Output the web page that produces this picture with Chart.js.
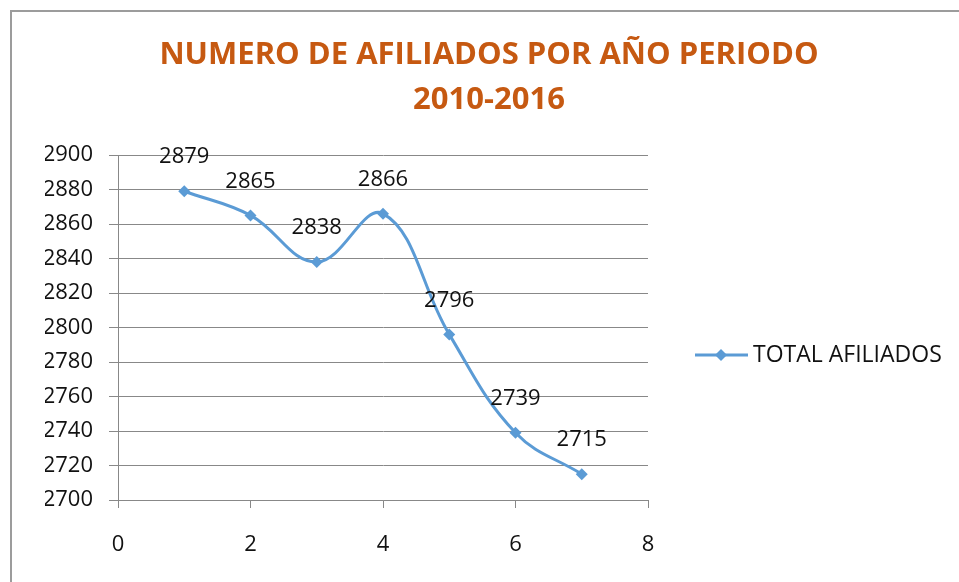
<!DOCTYPE html>
<html>
<head>
<meta charset="utf-8">
<title>Numero de afiliados</title>
<script src="https://cdn.jsdelivr.net/npm/chart.js@4/dist/chart.umd.min.js"></script>
<style>
  html, body { margin: 0; padding: 0; background: #fff; }
  .contenedor { position: relative; width: 959px; height: 582px; overflow: hidden; }
  #grafico { display: block; }
  .marco { position: absolute; left: 10px; top: 10px; right: -5px; bottom: -5px;
           border-top: 2px solid #9c9c9c; border-left: 2px solid #9c9c9c; pointer-events: none; }
</style>
</head>
<body>
<div class="contenedor">
  <canvas id="grafico" width="959" height="582"></canvas>
  <div class="marco"></div>
</div>
<script>
const titulo = ["NUMERO DE AFILIADOS POR AÑO PERIODO", "2010-2016"];
const serie = "TOTAL AFILIADOS";
const anios = [1, 2, 3, 4, 5, 6, 7];
const afiliados = [2879, 2865, 2838, 2866, 2796, 2739, 2715];
const ticksX = [0, 2, 4, 6, 8];
const ticksY = [2700, 2720, 2740, 2760, 2780, 2800, 2820, 2840, 2860, 2880, 2900];

const azul = "#5b9bd5";
const gris = "#888888";
const fuente = "'Open Sans', 'Liberation Sans', sans-serif";

// titulo y leyenda dibujados a mano (la leyenda va a la derecha, centrada en la linea)
const tituloYLeyenda = {
  id: "tituloYLeyenda",
  afterDraw(chart) {
    const ctx = chart.ctx;
    ctx.save();
    ctx.fillStyle = "#c65911";
    ctx.font = "bold 31px " + fuente;
    ctx.textAlign = "center";
    ctx.textBaseline = "middle";
    ctx.fillText(titulo[0], 489, 55);
    ctx.fillText(titulo[1], 489, 100);

    const ds = chart.data.datasets[0];
    const y = 355;
    ctx.strokeStyle = ds.borderColor;
    ctx.lineWidth = 3;
    ctx.beginPath();
    ctx.moveTo(695, y);
    ctx.lineTo(748, y);
    ctx.stroke();
    ctx.fillStyle = ds.backgroundColor;
    ctx.beginPath();
    ctx.moveTo(721, y - 6);
    ctx.lineTo(727, y);
    ctx.lineTo(721, y + 6);
    ctx.lineTo(715, y);
    ctx.closePath();
    ctx.fill();
    ctx.fillStyle = "#111";
    ctx.font = "23px " + fuente;
    ctx.textAlign = "left";
    ctx.fillText(ds.label, 753, y);
    ctx.restore();
  }
};

// etiquetas de valor encima de cada punto
const etiquetas = {
  id: "etiquetas",
  afterDatasetsDraw(chart) {
    const ctx = chart.ctx;
    const meta = chart.getDatasetMeta(0);
    ctx.save();
    ctx.fillStyle = "#111";
    ctx.font = "22px " + fuente;
    ctx.textAlign = "center";
    ctx.textBaseline = "middle";
    meta.data.forEach((p, i) => {
      ctx.fillText(String(afiliados[i]), p.x, p.y - 34);
    });
    ctx.restore();
  }
};

const ctx = document.getElementById("grafico").getContext("2d");
new Chart(ctx, {
  type: "line",
  data: {
    datasets: [
      {
        label: serie,
        data: anios.map((a, i) => ({ x: a, y: afiliados[i] })),
        borderColor: azul,
        backgroundColor: azul,
        borderWidth: 3,
        tension: 0.4,
        pointStyle: "rectRot",
        pointRadius: 6,
        pointBorderWidth: 0,
        fill: false,
      },
    ],
  },
  options: {
    responsive: false,
    animation: false,
    devicePixelRatio: 1,
    layout: { padding: { top: 155, left: 45, right: 311, bottom: 25 } },
    plugins: {
      legend: { display: false },
      title: { display: false },
      tooltip: { enabled: false },
    },
    scales: {
      x: {
        type: "linear",
        min: ticksX[0],
        max: ticksX[ticksX.length - 1],
        afterBuildTicks: (scale) => { scale.ticks = ticksX.map((v) => ({ value: v })); },
        afterFit: (scale) => { scale.height = 57; },
        ticks: { padding: 24, color: "#111", font: { family: fuente, size: 22 } },
        grid: { drawOnChartArea: false, drawTicks: true, tickLength: 8, color: gris },
        border: { color: gris, width: 1 },
      },
      y: {
        min: ticksY[0],
        max: ticksY[ticksY.length - 1],
        afterBuildTicks: (scale) => { scale.ticks = ticksY.map((v) => ({ value: v })); },
        afterFit: (scale) => { scale.width = 73; },
        ticks: {
          padding: 16,
          color: "#111",
          font: { family: fuente, size: 22 },
          callback: (v) => String(v),
        },
        grid: { color: gris, tickLength: 9 },
        border: { color: gris, width: 1 },
      },
    },
  },
  plugins: [tituloYLeyenda, etiquetas],
});
</script>
</body>
</html>
